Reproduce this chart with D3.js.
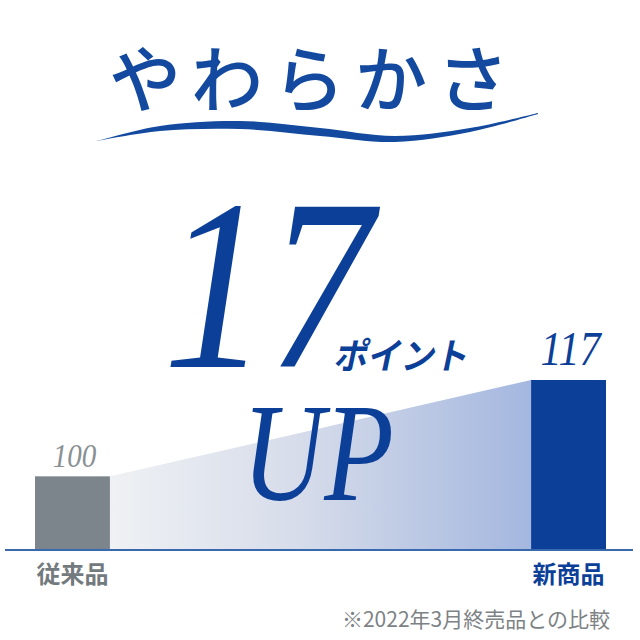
<!DOCTYPE html>
<html>
<head>
<meta charset="utf-8">
<script src="https://cdn.jsdelivr.net/npm/d3@7"></script>
<style>
  html, body { margin: 0; padding: 0; background: #fff; }
  svg { display: block; }
</style>
</head>
<body>
<svg id="canvas" width="640" height="640"></svg>
<script>
// chart data
let categories = ['従来品', '新商品']
let values = [100, 117]
let valueLabels = ['100', '117']
let gainText = '17'
let title = 'やわらかさ'
let note = '※2022年3月終売品との比較'

let blue = '#0c3f97'
let gray = '#7b858b'

let canvas = d3.select('#canvas')

let x = d3.scaleBand().domain(categories).range([35, 606]).paddingInner(0.849).paddingOuter(0)
let y = d3.scaleLinear().domain([87, 117]).range([550, 380]) // axis does not start at zero in the original

// gradient for the rising band between the bars
let defs = canvas.append('defs')
let grad = defs.append('linearGradient').attr('id', 'rise').attr('x1', '0%').attr('x2', '100%')
grad.append('stop').attr('offset', '0%').attr('stop-color', '#eff1f4')
grad.append('stop').attr('offset', '45%').attr('stop-color', '#d6dcea')
grad.append('stop').attr('offset', '100%').attr('stop-color', '#a4b7df')

let drawTitle = () => {
    canvas.append('text')
        .attr('x', 314)
        .attr('y', 106)
        .attr('text-anchor', 'middle')
        .attr('font-family', '"Noto Sans CJK JP"')
        .attr('font-weight', 500)
        .attr('font-size', 72)
        .attr('letter-spacing', 10)
        .attr('fill', '#134a9f')
        .text(title)

    // the swoosh under the title
    let top = [[97, 141], [160, 126], [240, 121], [320, 128], [395, 136], [470, 128], [538, 113]]
    let bottom = [[538, 114], [470, 132], [395, 142], [320, 136], [240, 129], [160, 131], [97, 141]]
    let line = d3.line().curve(d3.curveCatmullRom)
    canvas.append('path')
        .attr('d', line(top) + 'L' + line(bottom).slice(1) + 'Z')
        .attr('fill', '#134a9f')
}

let drawChart = () => {
    let base = y.domain()[0]
    let bw = x.bandwidth()

    let band = [
        { px: x(categories[0]) + bw, v: values[0] },
        { px: x(categories[1]), v: values[1] }
    ]
    canvas.append('path')
        .datum(band)
        .attr('d', d3.area().x(d => d.px).y0(y(base)).y1(d => y(d.v)))
        .attr('fill', 'url(#rise)')

    canvas.selectAll('rect.bar')
        .data(values)
        .enter()
        .append('rect')
        .attr('class', 'bar')
        .attr('x', (d, i) => x(categories[i]))
        .attr('y', d => y(d))
        .attr('width', bw)
        .attr('height', d => y(base) - y(d))
        .attr('fill', (d, i) => i == 0 ? gray : blue)

    // baseline
    canvas.append('line')
        .attr('x1', 5).attr('x2', 633)
        .attr('y1', y(base)).attr('y2', y(base))
        .style('stroke', '#3a68ad')
        .style('stroke-width', 2)

    // value labels, italic serif, slightly condensed
    canvas.selectAll('text.val')
        .data(valueLabels)
        .enter()
        .append('text')
        .attr('class', 'val')
        .attr('transform', (d, i) => 'translate(' + (x(categories[i]) + bw / 2 + 2) + ',' + (y(values[i]) - (i == 0 ? 9 : 15)) + ') scale(0.88,1)')
        .attr('text-anchor', 'middle')
        .attr('font-family', '"Liberation Serif"')
        .attr('font-style', 'italic')
        .attr('font-size', (d, i) => i == 0 ? 33 : 48)
        .attr('fill', (d, i) => i == 0 ? '#8a9094' : blue)
        .text(d => d)

    // category labels
    canvas.selectAll('text.cat')
        .data(categories)
        .enter()
        .append('text')
        .attr('class', 'cat')
        .attr('x', d => x(d) + bw / 2)
        .attr('y', 583)
        .attr('text-anchor', 'middle')
        .attr('font-family', '"Noto Sans CJK JP"')
        .attr('font-weight', 700)
        .attr('font-size', 24)
        .attr('fill', (d, i) => i == 0 ? '#737a7e' : blue)
        .text(d => d)
}

let drawCallout = () => {
    canvas.append('text')
        .attr('transform', 'translate(268,367) scale(0.86,1)')
        .attr('text-anchor', 'middle')
        .attr('font-family', '"Liberation Serif"')
        .attr('font-style', 'italic')
        .attr('font-size', 244)
        .attr('fill', blue)
        .text(gainText)

    canvas.append('text')
        .attr('transform', 'translate(400,369) skewX(-12)')
        .attr('text-anchor', 'middle')
        .attr('font-family', '"Noto Sans CJK JP"')
        .attr('font-weight', 700)
        .attr('font-size', 36)
        .attr('textLength', 134)
        .attr('lengthAdjust', 'spacingAndGlyphs')
        .attr('fill', blue)
        .text('ポイント')

    canvas.append('text')
        .attr('transform', 'translate(318,500) scale(0.82,1)')
        .attr('text-anchor', 'middle')
        .attr('font-family', '"Liberation Serif"')
        .attr('font-style', 'italic')
        .attr('font-size', 139)
        .attr('fill', blue)
        .text('UP')
}

let drawNote = () => {
    canvas.append('text')
        .attr('x', 610)
        .attr('y', 627)
        .attr('text-anchor', 'end')
        .attr('font-family', '"Noto Sans CJK JP"')
        .attr('font-size', 21)
        .attr('fill', '#7d8285')
        .text(note)
}

drawChart()
drawCallout()
drawTitle()
drawNote()
</script>
</body>
</html>
